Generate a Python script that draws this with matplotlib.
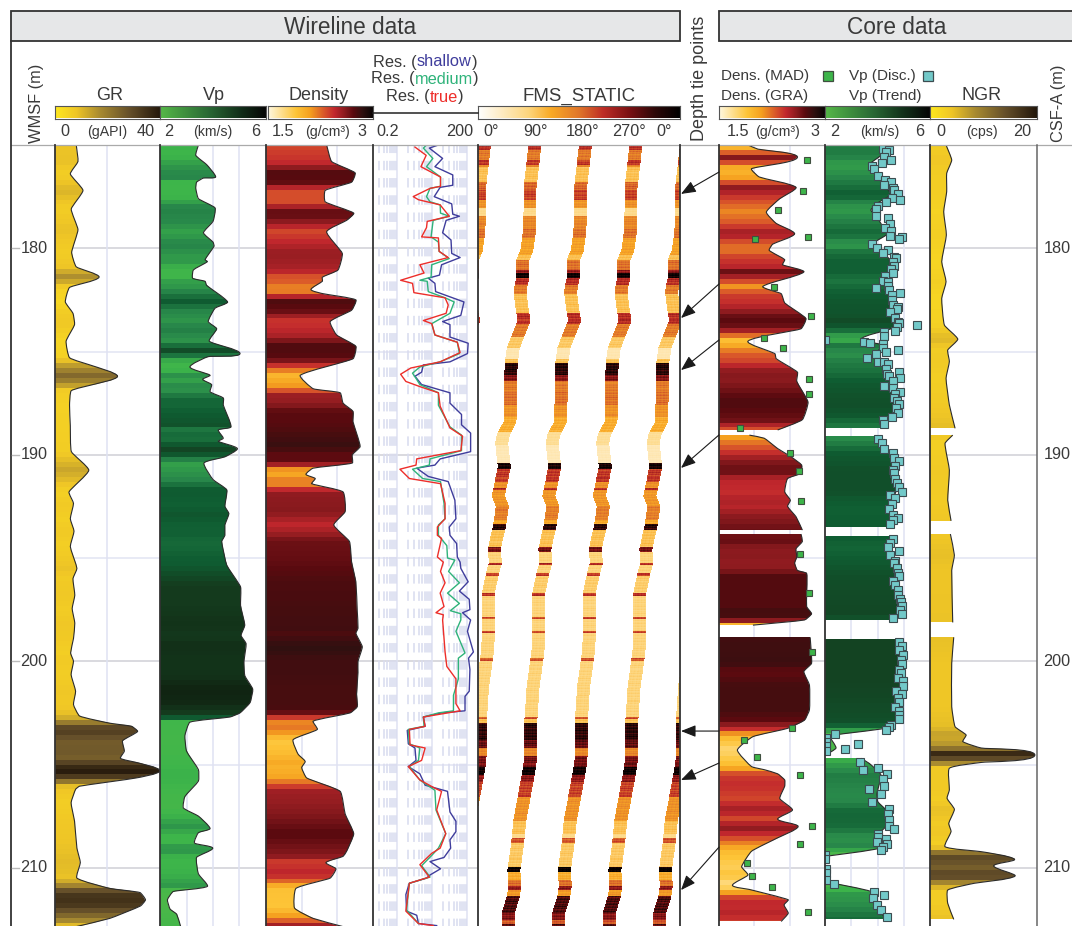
import numpy as np
import matplotlib
matplotlib.use("Agg")
import matplotlib.pyplot as plt
from matplotlib.colors import LinearSegmentedColormap
from matplotlib.patches import PathPatch, Rectangle
from matplotlib.path import Path

plt.rcParams["font.family"] = ["Liberation Sans", "DejaVu Sans"]
plt.rcParams["lines.scale_dashes"] = False

# =========================
# DATA
# =========================
gr_depth = [175, 175.8, 176.4, 177.2, 178.1, 179.1, 180.2, 180.9, 181.4, 181.9, 182.6, 183.15, 183.7, 184.5, 185.3,
            185.7, 186.2, 186.6, 186.9, 187.6, 188.6, 189.85, 190.75, 191.8, 192.35, 193.1, 193.7, 194.45, 195.5,
            196, 196.8, 197.45, 198.15, 198.9, 199.6, 200, 200.65, 201.45, 202.1, 202.65, 203, 203.15, 203.4, 203.85,
            204.35, 204.7, 204.9, 205.3, 205.65, 206.05, 206.2, 206.85, 207.75, 209.05, 209.75, 210.5, 211, 211.2,
            211.55, 211.85, 212.45, 212.85]
gr_val = [8.25, 8.9, 6, 10.8, 6.35, 8.9, 6.5, 8.25, 16.9, 5.7, 4.1, 7, 7.6, 4.4, 5.7,
          14.6, 23.9, 14.6, 6.35, 5.7, 6, 6.4, 13, 5.5, 7.2, 6, 7.4, 6, 8.5,
          7, 7.7, 6.7, 7.7, 7.2, 6.1, 7.2, 6.3, 8, 7.2, 9.5, 21, 29.2, 31.5, 25.8,
          26.5, 25, 31, 40, 31, 9.5, 8, 6.3, 7.6, 8.5, 9.8, 8.5, 21, 32.4,
          34.5, 32.6, 21, 8.2]

vp_depth = [175, 175.5, 175.95, 176.55, 176.6, 176.8, 177.1, 177.6, 178.05, 178.7, 179.25, 179.7, 179.9, 180.55, 180.65,
            181.05, 181.45, 181.6, 181.8, 182.6, 182.9, 183.55, 183.9, 184.5, 185.1, 185.25, 185.75, 186.15, 186.35,
            186.6, 186.95, 187.25, 187.6, 188.65, 188.8, 189.2, 189.35, 189.7, 190.1, 190.4, 191.2, 191.7, 192.5,
            192.85, 193.4, 193.9, 194.2, 195.35, 196.4, 197.3, 198.25, 198.75, 199.15, 200, 200.7, 201.35, 202, 202.5,
            202.7, 202.95, 203.6, 204.35, 205.25, 205.8, 206.55, 207.1, 207.5, 208.1, 208.3, 208.8, 209.05, 209.5,
            210.3, 210.9, 211.15, 211.55, 212, 212.25, 212.85]
vp_val = [3.45, 3.35, 3.76, 4.1, 3.64, 3.38, 3.35, 3.45, 4.08, 4.0, 3.64, 4.0, 4.04, 3.7, 3.79,
          3.26, 3.23, 3.7, 3.76, 4.55, 4.08, 3.82, 4.14, 3.86, 5.02, 3.82, 3.13, 3.89, 3.61,
          3.95, 3.89, 4.39, 4.39, 4.68, 4.2, 4.39, 4.2, 4.92, 4.45, 3.66, 4.0, 4.52, 4.45,
          4.6, 4.45, 4.45, 4.33, 4.52, 5.04, 5.04, 5.2, 5.06, 5.25, 5.17, 5.2, 5.5, 5.4, 5.02,
          4.64, 3.13, 2.94, 3.0, 3.45, 3.45, 2.94, 2.88, 3.45, 3.89, 3.45, 3.3, 3.99, 3.38,
          3.45, 3.79, 2.5, 2.28, 2.38, 2.63, 2.78]

den_depth = [175, 175.8, 176.35, 176.8, 177.2, 177.75, 178.3, 178.65, 179.2, 180.25, 181.05, 181.4, 181.6, 182, 182.2,
             182.5, 183, 183.55, 184.2, 184.75, 185.35, 186.15, 186.8, 187, 187.5, 187.9, 188.4, 189.6, 190, 190.4,
             190.65, 190.95, 191.15, 191.4, 191.8, 192.75, 193.4, 194.2, 195.2, 196.15, 197.6, 198.4, 198.65, 199.3,
             200, 200.55, 201.6, 202.2, 202.5, 202.9, 203.3, 203.8, 204.5, 204.85, 205.15, 205.65, 206.3, 207.4,
             208.35, 209.2, 209.45, 209.75, 210.05, 210.5, 211, 211.95, 212.45, 212.85]
den_val = [2.35, 2.42, 2.75, 2.7, 2.33, 2.33, 2.73, 2.63, 2.35, 2.57, 2.51, 2.29, 2.29, 2.13, 2.3,
           2.76, 2.7, 2.4, 2.49, 2.76, 2.72, 1.98, 2.16, 2.54, 2.58, 2.72, 2.72, 2.82, 2.71, 2.71,
           2.16, 2.06, 2.19, 2.14, 2.58, 2.61, 2.45, 2.67, 2.7, 2.76, 2.78, 2.79, 2.76, 2.85,
           2.79, 2.79, 2.77, 2.78, 2.68, 2.16, 2.22, 1.88, 1.95, 2.05, 2.0, 2.07, 2.54, 2.61,
           2.73, 2.63, 2.58, 2.34, 2.48, 2.4, 1.92, 1.9, 2.16, 2.58]

# resistivity as log10(ohm m)
sh_depth = [175, 175.15, 175.65, 176.05, 176.45, 176.95, 177.05, 177.5, 177.85, 178.35, 178.45, 178.65, 179.25, 179.6,
            180.25, 180.45, 180.8, 181.3, 181.45, 181.7, 182.1, 182.6, 183.25, 183.55, 183.7, 184.3, 184.6, 185.1,
            185.5, 185.65, 186, 186.2, 186.6, 187, 187.5, 188.05, 188.55, 188.95, 189.85, 190.2, 190.5, 190.65, 191.05,
            191.3, 192.2, 193.1, 193.5, 193.9, 194.3, 194.95, 195.2, 195.5, 196.15, 196.6, 197, 197.5, 197.65,
            198, 198.55, 199.55, 199.85, 200.4, 201.45, 201.7, 202.4, 202.5, 202.7, 203.15, 203.35, 204, 204.2, 204.8,
            205.1, 205.45, 206, 206.3, 207.3, 207.75, 208.25, 208.65, 209.05, 209.5, 209.7, 210.05, 210.35, 210.5,
            210.75, 211.3, 212.1, 212.3, 212.7, 212.8]
sh_log = [1.17, .91, 1.29, 1.07, 1.58, 1.58, 1.22, 1.05, 1.55, 1.58, 1.77, 1.39, 1.29, 1.53,
          1.55, 1.79, 1.26, 1.2, .88, 1.07, 1.09, 1.9, 1.81, 1.29, 1.5, 1.5, 2.02, 2.0,
          1.5, .74, .69, .5, .69, 1.5, 1.5, 1.83, 1.83, 2.09, 2.09, 1.22, 1.07, .55, .88,
          1.45, 1.64, 1.67, 1.48, 1.5, 1.69, 1.71, 1.79, 1.81, 2.02, 1.77, 2.05, 2.07, 1.86,
          2.09, 2.0, 2.17, 2.03, 2.07, 2.05, 1.93, 1.93, 1.26, .74, .79, .28, .31, .5, .53,
          .31, .64, .79, 1.43, 1.5, 1.67, 1.67, 1.5, 1.52, 1.33, .93, 1.23, .93, .83,
          .34, .24, .26, .55, .6, 1.12]

md_depth = [175, 175.15, 175.65, 176.05, 176.55, 177, 177.1, 177.5, 177.75, 177.9, 178.3, 178.45, 178.65, 179.45, 179.7,
            180.15, 180.5, 180.8, 181.4, 181.55, 181.6, 182.1, 182.4, 182.6, 183.15, 183.65, 184.2, 184.55, 185.1,
            185.5, 185.75, 186.05, 186.3, 186.6, 187, 187.6, 188.65, 189.05, 189.8, 190.2, 190.5, 190.7, 191.15, 191.3,
            192.35, 193.1, 193.4, 193.9, 194.4, 195, 195.1, 195.65, 196.2, 196.7, 197.2, 197.55, 197.7,
            198, 198.55, 199.6, 199.85, 200.85, 201.65, 202.4, 202.5, 202.7, 203.15, 203.3, 204, 204.2, 204.8,
            205.1, 205.75, 206.25, 207.2, 208.35, 209.05, 209.4, 209.9, 210.45, 210.75, 212.05, 212.7]
md_log = [.83, .74, 1.01, .83, 1.23, 1.23, .93, .83, .93, 1.22, 1.23, 1.48, 1.02, .96, 1.17,
          1.19, 1.48, .98, .96, .64, .85, .88, 1.36, 1.62, 1.5, .98, 1.07, 1.71, 1.77,
          1.22, .64, .43, .53, .64, 1.17, 1.17, 1.5, 1.83, 1.83, .93, .91, .43, .72, 1.23,
          1.33, 1.36, 1.17, 1.17, 1.41, 1.43, 1.64, 1.46, 1.77, 1.43, 1.77, 1.51, 1.81,
          1.81, 1.67, 1.93, 1.74, 1.74, 1.6, 1.6, 1.17, .74, .76, .31, .34, .64, .6,
          .34, .64, 1.07, 1.1, 1.38, 1.17, .98, .69, .93, .34, .26, .6]

tr_depth = [175.1, 175.5, 176.05, 176.55, 177, 177.1, 177.5, 177.65, 177.9, 178.45, 178.7, 179, 179.45, 179.5,
            180.15, 180.45, 180.8, 181.2, 181.55, 181.7, 182.15, 182.4, 182.75, 183.15, 183.5, 183.65, 184.2, 184.55,
            185.05, 185.5, 185.8, 186.1, 186.45, 186.7, 187, 187.65, 188.7, 189.1, 189.8, 190.2, 190.5, 190.7, 191.15,
            191.4, 192.35, 193.1, 193.5, 193.9, 194.05, 194.95, 195.2, 195.65, 196.2, 196.7, 197.35, 197.65, 197.75,
            198, 199.55, 200.25, 200.85, 202.05, 202.4, 202.7, 203.15, 203.3, 204.05, 204.2, 204.8, 205.1, 205.75,
            206.15, 206.3, 207.2, 208.35, 209.05, 209.3, 209.85, 210.45, 210.75, 212.1, 212.7, 212.8]
tr_log = [.5, .82, .67, 1.23, 1.23, .93, .45, .6, 1.22, 1.48, .85, .83, .69, 1.17,
          1.19, 1.45, .64, .76, .09, .43, .47, 1.36, 1.45, 1.39, .74, .98, 1.07, 1.71,
          1.79, 1.22, .38, .09, .24, .64, 1.17, 1.22, 1.5, 1.86, 1.81, .55, .53, .07, .34,
          1.23, 1.36, 1.36, 1.14, 1.14, 1.26, 1.14, 1.31, 1.23, 1.36, 1.22, 1.33, 1.1, 1.31,
          1.29, 1.36, 1.41, 1.67, 1.67, 1.79, .74, .79, .34, .36, .79, .69, .31, .64,
          1.07, 1.26, 1.12, 1.38, 1.22, .98, .64, .91, .34, .24, .6, 1.02]

# FMS pad centre (deg) and image level
pad_depth = [175, 175.97, 177.1, 178.2, 179.2, 180.15, 180.55, 181.45, 182.1, 182.9, 183.5, 184.2, 184.85, 185.5,
             186.3, 187.25, 188.4, 189.05, 189.45, 190.6, 191.2, 192, 192.5, 193.5, 194.55, 195.25, 195.9, 196.7,
             198.8, 199.6, 201.2, 202.85, 204.8, 205.6, 207.7, 209, 210.1, 210.9, 211.4, 212.2, 212.85]
pad_deg = [101.6, 97.4, 92.7, 92.7, 91.5, 86.8, 79.6, 79.6, 74.9, 78.4, 82, 71.9, 63, 59.4,
           58.2, 58.2, 57, 45.2, 42.2, 46.9, 42.2, 36.2, 43.4, 38, 29.1, 30.9, 24.4, 18.4,
           18.4, 16.6, 8.3, 4.2, 3.6, -1.2, -15.4, -20.2, -26.1, -24.4, -27.3, -36.2, -36.2]
fms_top = [175, 175.25, 175.75, 175.95, 176.05, 176.8, 177.2, 177.65, 178.05, 178.45, 179.05, 179.5, 180.35, 180.55,
           181.05, 181.2, 181.45, 181.8, 182.2, 183.15, 183.65, 184.3, 184.85, 185.35, 185.55, 185.75, 186.15, 186.45,
           186.95, 187.6, 188.15, 188.9, 189.55, 190.4, 190.7, 191.3, 191.62, 191.71, 192.5, 193.17, 193.36, 193.65,
           193.82, 194.46, 194.7, 195.25, 195.35, 195.75, 195.85, 196.7, 196.83, 197.85, 197.95, 198.55, 198.65,
           199.85, 200, 202.68, 202.81, 203, 203.81, 204.2, 204.62, 205.1, 205.5, 205.83, 206.55, 207.77, 208.34,
           208.57, 208.82, 209.95, 210.2, 210.6, 210.92, 211.1, 211.33, 212.2, 212.53, 212.72]
fms_level = [.62, .48, .6, .45, .3, .52, .58, .42, .22, .45, .5, .38, .3, .5,
             .7, .95, .62, .48, .3, .62, .48, .28, .15, .3, .9, .88, .72, .48,
             .5, .42, .35, .2, .14, .93, .6, .42, .65, .41, .47, .36, .88, .3,
             .3, .75, .25, .65, .25, .6, .27, .62, .25, .58, .25, .58, .25,
             .55, .25, .55, .3, .88, .78, .45, .75, .95, .7, .58, .42, .3, .22,
             .55, .28, .98, .35, .5, .7, .4, .82, .72, .55, .8]

# core density, GRA sections
cden_d1 = [175, 175.2, 175.6, 176.15, 176.55, 177.05, 177.6, 178.25, 178.8, 179.3, 179.8, 180.1, 180.55, 180.8, 181.15,
           181.85, 182.2, 182.65, 183.4, 183.9, 184.5, 185.1, 185.35, 186, 186.45, 187.45, 188.3, 188.8]
cden_v1 = [1.91, 2.05, 2.61, 1.96, 2.07, 2.59, 2.36, 2.17, 2.31, 2.57, 2.26, 2.21, 2.43, 2.4, 2.7,
           2.12, 2.38, 2.43, 2.73, 2.66, 1.91, 2.29, 2.31, 2.61, 2.6, 2.76, 2.68, 2.33]
cden_d2 = [189.05, 189.2, 189.7, 190.1, 190.5, 190.9, 191.15, 191.8, 192.2, 192.5, 193, 193.65]
cden_v2 = [1.93, 2.14, 2.33, 2.52, 2.67, 2.66, 2.47, 2.43, 2.51, 2.47, 2.59, 2.68]
cden_d3 = [193.84, 194.2, 194.55, 194.95, 195.25, 195.6, 195.75, 197.35, 197.7, 198, 198.25]
cden_v3 = [2.66, 2.68, 2.59, 2.6, 2.57, 2.61, 2.74, 2.74, 2.81, 2.71, 1.98]
cden_d4 = [198.84, 200.1, 200.5, 201.15, 202.35, 202.85, 203.25, 203.65, 204.3, 205.1, 205.25, 205.45, 205.75, 206.05,
           206.65, 207.2, 207.65, 208, 208.55, 209.2, 209.95, 210.35, 210.85, 211.05, 211.55, 211.8, 212.2, 212.6]
cden_v4 = [2.79, 2.81, 2.7, 2.78, 2.78, 2.71, 2.47, 1.98, 1.76, 1.96, 2.14, 2.33, 2.43, 2.43,
           2.36, 2.54, 2.33, 2.62, 2.33, 1.96, 1.82, 1.91, 1.69, 1.93, 2.48, 2.42, 2.48, 2.38]
mad_depth = [175.75, 177.25, 178.15, 179.55, 179.45, 181.9, 183.3, 184.35, 184.85, 186.35, 187.05, 188.7,
             189.9, 190.8, 192.25, 194.8, 196.7, 199.55, 203.25, 203.8, 204.65, 205.5, 208, 208.85, 209.75, 210.4,
             210.95, 212.15]
mad_val = [2.75, 2.69, 2.33, 2.01, 2.76, 2.28, 2.8, 2.13, 2.41, 2.77, 2.78, 1.8,
           2.5, 2.63, 2.66, 2.65, 2.77, 2.81, 2.54, 1.85, 2.04, 2.64, 2.81, 2.64, 1.89, 1.97,
           2.25, 2.76]

# core Vp trend sections
cvp_d1 = [175, 175.5, 175.95, 176.55, 176.95, 177.4, 177.8, 178.15, 178.55, 178.95, 179.3, 179.85, 180.15, 180.55, 181.15,
          181.55, 182.1, 182.6, 183.25, 183.55, 183.9, 184.4, 184.7, 185.15, 185.5, 186, 186.45, 187.05, 187.6, 188.05,
          188.5, 188.7]
cvp_v1 = [4.13, 4.13, 3.69, 4.01, 4.26, 4.51, 4.01, 3.75, 4.01, 4.2, 4.39, 3.75, 4.2, 4.45, 4.45,
          4.2, 4.45, 4.58, 4.64, 4.77, 4.51, 3.37, 4.2, 3.88, 4.13, 4.26, 4.51, 4.64, 4.7, 4.58,
          4.2, 4.2]
cvp_d2 = [189.1, 189.45, 189.95, 190.75, 191.8, 192.2, 192.7, 193.5]
cvp_v2 = [3.88, 4.13, 4.51, 4.7, 4.7, 4.51, 4.45, 4.51]
cvp_d3 = [193.92, 194.45, 195.1, 195.9, 196.85, 197.7, 198]
cvp_v3 = [4.51, 4.39, 4.51, 4.7, 4.77, 4.83, 4.58]
cvp_d4 = [198.9, 200.75, 201.7, 202.85, 203.25, 203.6]
cvp_v4 = [4.89, 4.89, 4.83, 4.7, 4.26, 2.1]
cvp_d5 = [203.65, 204.2, 204.55]
cvp_v5 = [2.17, 2.42, 2.0]
cvp_d6 = [204.7, 204.95, 205.5, 206.4, 206.8, 207.3, 208, 208.55, 209.05, 209.45]
cvp_v6 = [3.37, 3.69, 4.13, 3.98, 4.01, 4.39, 4.32, 3.88, 4.07, 2.0]
cvp_d7 = [210.7, 211.15, 211.7, 212.5]
cvp_v7 = [2.11, 3.75, 3.88, 4.32]
disc_depth = [175.19, 175.24, 175.36, 175.6, 175.74, 175.89, 176.0, 176.16, 176.49, 176.69, 176.81, 176.94, 177.07, 177.18,
              177.39, 177.55, 177.66, 177.74, 177.95, 178.12, 178.42, 178.52, 178.84, 179.0, 179.16, 179.39, 179.47,
              179.57, 179.81, 180.0, 180.1, 180.23, 180.41, 180.49, 180.65, 180.86, 181.0, 181.21, 181.33, 181.59,
              181.65, 181.81, 182.02, 181.91, 182.15, 182.26, 182.51, 182.75, 182.83, 182.94, 183.07, 183.36, 183.56,
              183.64, 183.73, 183.8, 183.99, 184.07, 184.23, 184.44, 184.52, 184.57, 184.64, 184.85, 184.91, 185.04,
              185.12, 185.33, 185.52, 185.49, 185.62, 185.85, 185.99, 186.11, 186.19, 186.3, 186.41, 186.65, 186.78,
              186.96, 187.07, 187.27, 187.4, 187.54, 187.75, 187.99, 188.16, 188.32, 188.51,
              189.26, 189.42, 189.72, 189.93, 190.18, 190.29, 190.55, 190.74, 190.9, 191.18, 191.35, 191.58, 191.79,
              191.94, 192.11, 192.39, 192.65, 192.92, 193.08, 193.16, 193.37, 194.08, 194.26, 194.49, 194.66, 194.87,
              195.13, 195.26, 195.5, 195.75, 195.86, 196.1, 196.31, 196.55, 196.79, 196.99, 197.12, 197.31, 197.52,
              197.73, 197.91,
              199.08, 199.26, 199.45, 199.69, 199.94, 200.13, 200.42, 200.58, 200.82, 200.95, 201.2, 201.42, 201.58,
              201.79, 201.95, 202.2, 202.39, 202.6, 202.81, 203.08, 203.2, 203.33, 203.52, 203.73, 203.89, 204.1,
              204.33, 204.26, 203.99, 204.89, 205.26, 205.15, 205.47, 205.72, 206.02, 206.18, 206.43, 206.8, 207.17,
              207.41, 207.7, 207.96, 208.14, 208.36, 208.49, 208.61, 208.73, 208.86, 208.98, 209.14, 209.38, 209.59,
              210.07, 210.27, 210.59, 210.78, 211.16, 211.33, 211.48, 211.8, 212.04, 212.37]
disc_val = [4.2, 4.45, 4.32, 4.26, 4.51, 4.17, 3.79, 3.85, 4.01, 4.28, 4.51, 4.26, 4.58, 4.64,
            4.77, 4.55, 4.84, 4.32, 4.01, 3.93, 3.93, 4.39, 4.47, 4.28, 4.51, 4.47, 4.92,
            4.83, 3.79, 3.98, 4.41, 4.2, 4.64, 4.7, 4.58, 4.61, 4.51, 4.58, 4.28, 4.2,
            4.39, 4.39, 4.45, 3.93, 4.87, 4.55, 4.55, 4.58, 4.79, 4.73, 4.49, 4.66, 4.77,
            4.83, 5.49, 4.74, 4.68, 4.23, 4.23, 2.0, 3.47, 3.72, 4.2, 4.2, 4.77, 4.32,
            3.93, 3.59, 4.01, 4.23, 4.41, 4.32, 4.83, 4.35, 4.45, 4.87, 4.58, 4.26, 4.58,
            4.85, 4.68, 4.64, 4.74, 4.83, 4.7, 4.77, 4.54, 4.2, 4.26,
            4.01, 4.17, 4.26, 4.58, 4.64, 4.83, 4.68, 4.58, 4.64, 4.66, 4.73, 4.83, 4.92,
            4.49, 4.68, 4.55, 4.45, 4.58, 4.77, 4.6, 4.47, 4.58, 4.47, 4.4, 4.8, 4.47,
            4.68, 4.61, 4.73, 4.77, 4.82, 4.6, 4.68, 4.77, 4.77, 4.85, 4.89, 4.92, 4.87,
            4.92, 4.59,
            4.83, 4.92, 4.8, 4.98, 4.89, 4.92, 4.83, 4.89, 4.77, 4.98, 4.98, 4.7, 4.92,
            4.77, 4.8, 4.66, 4.8, 4.8, 4.83, 4.51, 4.45, 4.31, 2.37, 2.02, 2.02, 2.02,
            2.02, 2.75, 3.27, 3.35, 3.46, 4.01, 4.35, 4.2, 4.23, 3.66, 4.13, 3.79, 4.45,
            4.39, 4.45, 4.45, 4.64, 4.01, 4.01, 4.31, 3.99, 4.35, 4.2, 4.13, 2.01, 2.01,
            2.02, 2.02, 2.02, 2.36, 3.88, 4.26, 3.84, 3.97, 4.13, 4.35]

# NGR sections
ngr_d1 = [175, 175.73, 176.37, 177.26, 178.23, 179.36, 180.65, 181.62, 182.43, 183.72, 184.4, 184.93, 185.49, 186.3,
          187.59, 188.72]
ngr_v1 = [3, 4.06, 3.12, 3.12, 2.56, 3.06, 2.19, 3, 2.19, 2.69, 5.19, 3.31, 3.62, 3, 3.62, 4.69]
ngr_d2 = [189.05, 189.45, 190.74, 192.2, 193.2]
ngr_v2 = [4.25, 2.81, 3.62, 3.31, 3.94]
ngr_d3 = [193.84, 194.86, 195.6, 198.12]
ngr_v3 = [3.81, 4.56, 4.06, 4.25]
ngr_d4 = [198.84, 200.1, 202.2, 203.17, 203.57, 203.89, 204.2, 204.54, 204.9, 205.18, 206.23, 206.64, 207.17, 207.85,
          208.25, 208.98, 209.22, 209.59, 209.91, 210.4, 210.75, 211.08, 211.72, 212.5]
ngr_v4 = [4.44, 4.06, 4.06, 4.69, 6.75, 6.13, 9.56, 19.6, 9.56, 3.62, 3.62, 3.19, 4.56, 3.5,
          3.94, 2.81, 9.56, 15.8, 11.9, 15.9, 8.31, 3.31, 3.31, 4.44]

# depth tie arrows: core depth -> wireline depth
tie_core = [176.31, 181.73, 184.44, 189.04, 203.38, 204.93, 209.0]
tie_wire = [177.37, 183.38, 185.9, 190.64, 203.38, 205.75, 211.08]

# =========================
# STYLE
# =========================
W, H = 1072, 926
TOP, BOT = 145, 926
D0, D1 = 175, 212.82
DARK = "#333333"
TXT = "#3a3a3a"
GRID_V = "#dfe2f2"

cm_gr = LinearSegmentedColormap.from_list("gr", [(0, "#ffe81f"), (.2, "#efc626"), (.42, "#a98b30"),
                                                 (.7, "#66502a"), (1, "#22160a")])
cm_vp = LinearSegmentedColormap.from_list("vp", [(0, "#4fb848"), (.35, "#3db54a"), (.5, "#28884a"),
                                                 (.62, "#0f5d32"), (.75, "#143c1e"), (.87, "#102412"), (1, "#050505")])
cm_vp_bar = LinearSegmentedColormap.from_list("vpbar", [(0, "#55b848"), (.45, "#2a6a35"), (.75, "#12301a"), (1, "#050505")])
cm_den = LinearSegmentedColormap.from_list("den", [(0, "#fff8e0"), (.267, "#fdc437"), (.4, "#f5a01f"),
                                                   (.533, "#d9572a"), (.633, "#c1272d"), (.733, "#8a1a1e"),
                                                   (.813, "#5a0a0f"), (.9, "#2f1010"), (1, "#0a0505")])
cm_fms = LinearSegmentedColormap.from_list("fms", [(0, "#ffffff"), (.25, "#fdd57c"), (.36, "#f9aa26"), (.5, "#e0762a"),
                                                   (.62, "#be2d26"), (.75, "#7a1113"), (.88, "#2c0808"), (1, "#000000")])

fig = plt.figure(figsize=(W / 100, H / 100), dpi=100)


def track(x0, x1, xlim, xscale="linear"):
    ax = fig.add_axes([x0 / W, 1 - BOT / H, (x1 - x0) / W, (BOT - TOP) / H])
    ax.set_xscale(xscale)
    ax.set_xlim(*xlim)
    ax.set_ylim(D1, D0)
    ax.axis("off")
    return ax


def depth_grid(ax):
    for d in [180, 190, 200, 210]:
        ax.axhline(d, color="#cfd0d6", lw=1.1, zorder=1)
    for d in [185, 195, 205]:
        ax.axhline(d, color="#e2e4f2", lw=1.1, zorder=1)


def curve_segments(value, depth, sx):
    # bezier handles through the picked points, the path stays a curve and no points get added
    p = np.column_stack([np.asarray(value, float) * sx, np.asarray(depth, float) * 20.65])
    tan = np.zeros_like(p)
    tan[1:-1] = p[2:] - p[:-2]
    tan[0] = p[1] - p[0]
    tan[-1] = p[-1] - p[-2]
    tan /= np.maximum(np.linalg.norm(tan, axis=1, keepdims=True), 1e-6)
    verts = []
    for i in range(len(p) - 1):
        seg = np.linalg.norm(p[i + 1] - p[i]) * 0.13
        verts += [p[i] + tan[i] * seg, p[i + 1] - tan[i + 1] * seg, p[i + 1]]
    verts = np.array(verts) / [sx, 20.65]
    return verts


def fill_log(ax, depth, value, cmap, vmin, vmax, px, step=0.24):
    depth = np.asarray(depth, float)
    value = np.asarray(value, float)
    bins = np.arange(depth[0], depth[-1] + step, step)
    mid = (bins[:-1] + bins[1:]) / 2
    mesh = ax.pcolormesh([vmin, vmax], bins, np.interp(mid, depth, value)[:, None], cmap=cmap,
                         vmin=vmin, vmax=vmax, zorder=2, antialiased=False)
    seg = curve_segments(value, depth, px / (vmax - vmin))
    start = (value[0], depth[0])
    verts = [(vmin, depth[0]), start] + [tuple(v) for v in seg] + [(vmin, depth[-1]), (vmin, depth[0])]
    codes = [Path.MOVETO, Path.LINETO] + [Path.CURVE4] * len(seg) + [Path.LINETO, Path.CLOSEPOLY]
    patch = PathPatch(Path(verts, codes), fc="none", ec="none", transform=ax.transData)
    ax.add_patch(patch)
    mesh.set_clip_path(patch)
    line = Path([start] + [tuple(v) for v in seg], [Path.MOVETO] + [Path.CURVE4] * len(seg))
    ax.add_patch(PathPatch(line, fc="none", ec="#2b2b2b", lw=0.8, zorder=3))


# =========================
# WIRELINE TRACKS
# =========================
ax = track(54.5, 160, (0, 40))
depth_grid(ax)
ax.axvline(20, color=GRID_V, lw=1.1, zorder=1)
fill_log(ax, gr_depth, gr_val, cm_gr, 0, 40, 105.5)

ax = track(160, 266, (2, 6))
depth_grid(ax)
for v in [3, 4, 5]:
    ax.axvline(v, color=GRID_V, lw=1.1, zorder=1)
fill_log(ax, vp_depth, vp_val, cm_vp, 2, 6, 106)

ax = track(266, 373, (1.5, 3))
depth_grid(ax)
for v in [2, 2.5]:
    ax.axvline(v, color=GRID_V, lw=1.1, zorder=1)
fill_log(ax, den_depth, den_val, cm_den, 1.5, 3, 107)

ax = track(373, 478, (0.2, 200), "log")
depth_grid(ax)
for v in [1, 10, 100]:
    ax.axvline(v, color=GRID_V, lw=1.1, zorder=1)
for base in [0.1, 1, 10]:
    for m in range(2, 10):
        if base * m > 0.2:
            ax.plot([base * m, base * m], [D0, D1], color="#d9dcef", lw=1.15, zorder=1,
                    linestyle=(1.0, (6.8, 5.6)))
ax.plot(10 ** np.array(sh_log), sh_depth, color="#3f3d9c", lw=1.0, zorder=3)
ax.plot(10 ** np.array(md_log), md_depth, color="#2fb37a", lw=1.0, zorder=4)
ax.plot(10 ** np.array(tr_log), tr_depth, color="#ed2e2a", lw=1.0, zorder=5)

# FMS pads: same path shifted 90 deg per pad, wraps round the borehole
ax = track(478, 680, (0, 360))
rows = np.arange(D0, D1 + 0.05, 0.05)
mid = (rows[:-1] + rows[1:]) / 2
level = np.array(fms_level)[np.searchsorted(fms_top, mid, side="right") - 1]
centre = np.interp(rows, pad_depth, pad_deg)
fine = np.array([0, .03, -.02, .05, -.04, .01, .06, -.03, 0, .04, -.05, .02, -.01, .07, -.02, .03, -.06])
col_weight = np.array([.97, 1.02, .99, 1.03, 1.0, .98, 1.03, .99, 1.02, .97])
for k in [-1, 0, 1, 2, 3, 4]:
    edges = np.linspace(-11.5, 11.5, len(col_weight) + 1)
    xx = (centre + k * 90)[:, None] + edges[None, :]
    yy = np.repeat(rows[:, None], len(edges), axis=1)
    tex = np.resize(np.roll(fine, 5 * k), len(mid))
    cc = (level + tex * np.clip(level * 1.2, 0, 1))[:, None] * col_weight[None, :]
    ax.pcolormesh(xx, yy, cc, cmap=cm_fms, vmin=0, vmax=1, zorder=2, antialiased=False)

# =========================
# CORE TRACKS
# =========================
ax = track(719, 825, (1.5, 3))
depth_grid(ax)
for v in [2, 2.5]:
    ax.axvline(v, color=GRID_V, lw=1.1, zorder=1)
for dd, vv in [(cden_d1, cden_v1), (cden_d2, cden_v2), (cden_d3, cden_v3), (cden_d4, cden_v4)]:
    fill_log(ax, dd, vv, cm_den, 1.5, 3, 106)
ax.plot(mad_val, mad_depth, "s", ms=5, mfc="#3db54a", mec="#3f4f3f", mew=0.8, zorder=5)

ax = track(825, 930, (2, 6))
depth_grid(ax)
for v in [3, 4, 5]:
    ax.axvline(v, color=GRID_V, lw=1.1, zorder=1)
for dd, vv in [(cvp_d1, cvp_v1), (cvp_d2, cvp_v2), (cvp_d3, cvp_v3), (cvp_d4, cvp_v4),
               (cvp_d5, cvp_v5), (cvp_d6, cvp_v6), (cvp_d7, cvp_v7)]:
    fill_log(ax, dd, vv, cm_vp, 2, 6, 105)
ax.plot(disc_val, disc_depth, "s", ms=5.3, mfc="#72c9c9", mec="#3c4c50", mew=0.8, zorder=5)

ax = track(930, 1037, (0, 20))
depth_grid(ax)
for dd, vv in [(ngr_d1, ngr_v1), (ngr_d2, ngr_v2), (ngr_d3, ngr_v3), (ngr_d4, ngr_v4)]:
    fill_log(ax, dd, vv, cm_gr, 0, 20, 107)

# =========================
# COLOUR BARS
# =========================
grad = np.linspace(0, 1, 256)[None, :]
for x0, x1, cm in [(55, 160, cm_gr), (160, 266, cm_vp_bar), (268, 373, cm_den), (478, 680, cm_fms),
                   (719, 825, cm_den), (825, 930, cm_vp_bar), (930, 1037, cm_gr)]:
    cax = fig.add_axes([x0 / W, 1 - 118.5 / H, (x1 - x0) / W, 12.5 / H])
    cax.imshow(grad, aspect="auto", cmap=cm, vmin=0, vmax=1)
    cax.set_xticks([])
    cax.set_yticks([])
    for s in cax.spines.values():
        s.set_color("#555555")
        s.set_linewidth(0.8)

# =========================
# FRAME AND TEXT (overlay in pixels)
# =========================
ov = fig.add_axes([0, 0, 1, 1])
ov.set_xlim(0, W)
ov.set_ylim(H, 0)
ov.axis("off")
ov.patch.set_alpha(0)

ov.add_patch(Rectangle((11, 11), 669, 30, fc="#e6e7e8", ec=DARK, lw=1.3))
ov.add_patch(Rectangle((719, 11), 400, 30, fc="#e6e7e8", ec=DARK, lw=1.3, clip_on=True))
ov.text(350, 28, "Wireline data", fontsize=16.3, color=TXT, ha="center", va="center")
ov.text(897, 28, "Core data", fontsize=16.3, color=TXT, ha="center", va="center")
ov.text(699, 78, "Depth tie points", fontsize=13, color=TXT, ha="center", va="center", rotation=90)
ov.text(36, 103, "WMSF (m)", fontsize=11.8, color=TXT, ha="center", va="center", rotation=90)
ov.text(1058, 103, "CSF-A (m)", fontsize=11.8, color=TXT, ha="center", va="center", rotation=90)

ov.plot([11, 1072], [145, 145], color="#aaaaaa", lw=0.9)
ov.plot([11, 11], [41, 926], color=DARK, lw=1.3)
for x in [54.5, 160, 266, 373, 478, 680, 719, 825, 930]:
    ov.plot([x, x], [145, 926], color=DARK, lw=1.3)
ov.plot([1037, 1037], [145, 926], color="#666666", lw=1.1)

for x, s, fs in [(110, "GR", 13), (214, "Vp", 13), (319, "Density", 13), (579, "FMS_STATIC", 13.4), (982, "NGR", 13)]:
    ov.text(x, 96, s, fontsize=fs, color=TXT, ha="center", va="center")
for x, s in [(721, "Dens. (MAD)"), (849, "Vp (Disc.)")]:
    ov.text(x, 76, s, fontsize=11, color=TXT, ha="left", va="center")
for x, s in [(721, "Dens. (GRA)"), (849, "Vp (Trend)")]:
    ov.text(x, 96, s, fontsize=11, color=TXT, ha="left", va="center")
ov.plot([828], [76], "s", ms=6.5, mfc="#3db54a", mec="#3f4f3f", mew=0.9)
ov.plot([928], [76], "s", ms=6.5, mfc="#72c9c9", mec="#3c4c50", mew=0.9)

for x, s in [(65, "0"), (146, "40"), (169, "2"), (256, "6"), (283, "1.5"), (362, "3"), (388, "0.2"), (460, "200"),
             (491, "0°"), (535, "90°"), (583, "180°"), (629, "270°"), (664, "0°"),
             (738, "1.5"), (815, "3"), (835, "2"), (920, "6"), (941, "0"), (1022, "20")]:
    ov.text(x, 131, s, fontsize=11.7, color=TXT, ha="center", va="center")
for x, s in [(107, "(gAPI)"), (213, "(km/s)"), (328, "(g/cm³)"), (778, "(g/cm³)"), (880, "(km/s)"), (982, "(cps)")]:
    ov.text(x, 132, s, fontsize=10.2, color=TXT, ha="center", va="center")

# resistivity legend with coloured words
renderer = fig.canvas.get_renderer()
for y, word, colour in [(62, "shallow", "#3f3d9c"), (79, "medium", "#2fb37a"), (97, "true", "#ed2e2a")]:
    parts = [("Res. (", TXT), (word, colour), (")", TXT)]
    items = [ov.text(0, y, p, fontsize=11.8, color=c, va="center", ha="left") for p, c in parts]
    widths = [t.get_window_extent(renderer).width for t in items]
    x = 425 - sum(widths) / 2
    for t, w in zip(items, widths):
        t.set_x(x)
        x += w
ov.plot([373, 478], [112.5, 112.5], color="#222222", lw=1.1)

# depth ticks and tie arrows share a depth scale
dp = fig.add_axes([0, 1 - BOT / H, 1, (BOT - TOP) / H])
dp.set_xlim(0, W)
dp.set_ylim(D1, D0)
dp.axis("off")
dp.patch.set_alpha(0)
for d in [180, 190, 200, 210]:
    dp.plot([12, 19], [d, d], color="#bbbbbb", lw=1.0)
    dp.text(34, d, str(d), fontsize=11.7, color=TXT, ha="center", va="center")
    dp.text(1057, d, str(d), fontsize=11.7, color=TXT, ha="center", va="center")
for dc, dw in zip(tie_core, tie_wire):
    dp.annotate("", xy=(681, dw), xytext=(719, dc),
                arrowprops=dict(arrowstyle="-|>,head_length=0.75,head_width=0.3", color="#1a1a1a", lw=0.8,
                                shrinkA=0, shrinkB=0, mutation_scale=12))

fig.savefig("out.png", dpi=100)
plt.close(fig)
